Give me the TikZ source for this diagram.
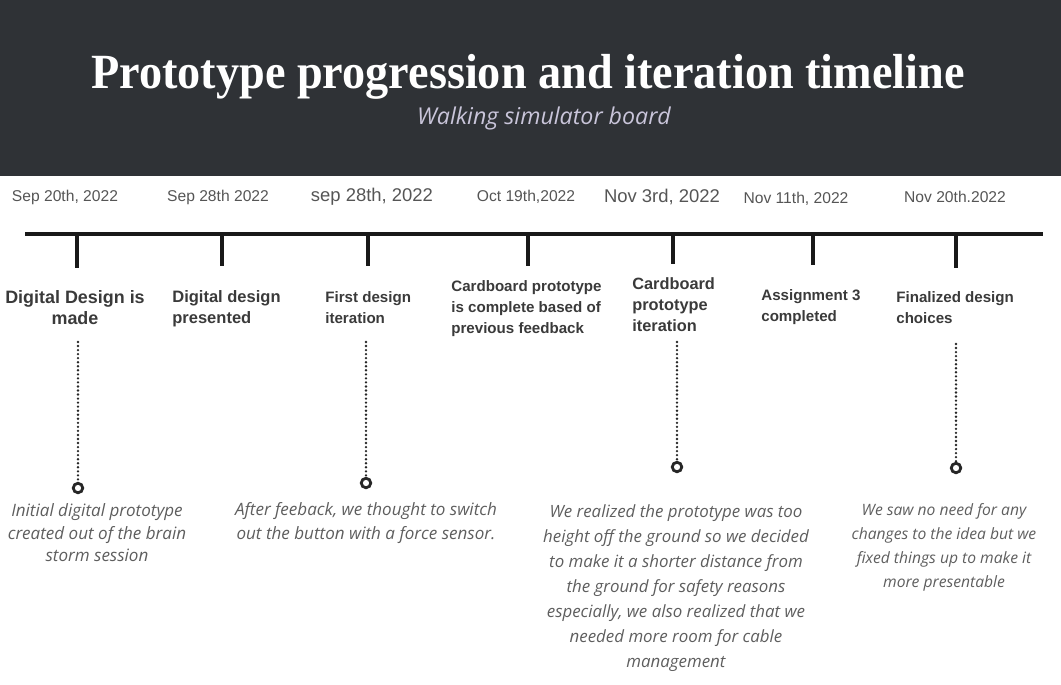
\documentclass[tikz,border=0pt]{standalone}
\usepackage{fontspec}
\setmainfont{Liberation Sans}
\newfontfamily\headfont[FakeStretch=0.94]{Liberation Serif}
\newfontfamily\notefont{Open Sans}

\definecolor{headbg}{HTML}{2F3236}
\definecolor{subgray}{HTML}{C9C5DA}
\definecolor{dategray}{HTML}{555555}
\definecolor{eventgray}{HTML}{3A3A3A}
\definecolor{notegray}{HTML}{5E5E5E}

\begin{document}
\begin{tikzpicture}[
  x=0.02cm, y=-0.02cm,
  every node/.style={inner sep=0pt},
  headline/.style={text=white, font=\headfont\bfseries\fontsize{28}{32}\selectfont},
  subline/.style={text=subgray, font=\notefont\itshape\fontsize{13.2}{15}\selectfont},
  date/.style={text=dategray, font=\fontsize{8.9}{10}\selectfont},
  bigdate/.style={text=dategray, font=\fontsize{10.5}{12}\selectfont},
  event/.style={text=eventgray, font=\bfseries\fontsize{8.6}{11.9}\selectfont, align=left, anchor=north west},
  note/.style={text=notegray, font=\notefont\itshape\fontsize{9.7}{13}\selectfont, align=center, anchor=north},
  axis/.style={line width=2.6pt, draw=black!90},
  tick/.style={line width=2.7pt, draw=black!90},
  stem/.style={draw=black!85, line width=1.5pt, line cap=round, dash pattern=on 0pt off 2.3pt},
  pin/.style={circle, draw=black!85, line width=1.6pt, minimum size=5.4pt, fill=white}
]
\useasboundingbox (0,0) rectangle (1061,684);

% header band:
\fill[headbg] (0,0) rectangle (1061,176);
\node[headline] (title) at (528,77) {Prototype progression and iteration timeline};
\node[subline] (sub) at (544,118) {Walking simulator board};

% dates:
\node[date] (d1) at (65,197) {Sep 20th, 2022};
\node[date] (d2) at (218,197) {Sep 28th 2022};
\node[bigdate] (d3) at (372,197) {sep 28th, 2022};
\node[date] (d4) at (526,197) {Oct 19th,2022};
\node[bigdate] (d5) at (662,197) {Nov 3rd, 2022};
\node[date] (d6) at (796,199) {Nov 11th, 2022};
\node[date] (d7) at (955,197) {Nov 20th.2022};

% main line and ticks:
\coordinate (start) at (25,234);
\coordinate (end) at (1043,234);
\draw[axis] (start) -- (end);
\coordinate (t1) at (77,268);
\coordinate (t2) at (222,266);
\coordinate (t3) at (368,266);
\coordinate (t4) at (528,266);
\coordinate (t5) at (673,264);
\coordinate (t6) at (813,265);
\coordinate (t7) at (956,268);
\draw[tick] (t1 |- start) -- (t1);
\draw[tick] (t2 |- start) -- (t2);
\draw[tick] (t3 |- start) -- (t3);
\draw[tick] (t4 |- start) -- (t4);
\draw[tick] (t5 |- start) -- (t5);
\draw[tick] (t6 |- start) -- (t6);
\draw[tick] (t7 |- start) -- (t7);

% events:
\node[event, align=center, anchor=north, font=\bfseries\fontsize{10.2}{11.9}\selectfont] (e1) at (75,290) {Digital Design is\\made};
\node[event, font=\bfseries\fontsize{9.4}{11.9}\selectfont] (e2) at (172,290) {Digital design\\presented};
\node[event] (e3) at (325,291) {First design\\iteration};
\node[event] (e4) at (451,280) {Cardboard prototype\\is complete based of\\previous feedback};
\node[event, font=\bfseries\fontsize{9.3}{12.1}\selectfont] (e5) at (632,277) {Cardboard\\prototype\\iteration};
\node[event] (e6) at (761,289) {Assignment 3\\completed};
\node[event] (e7) at (896,291) {Finalized design\\choices};

% dotted stems with pins:
\coordinate (s1) at (78,342);
\coordinate (s3) at (366,342);
\coordinate (s5) at (677,342);
\coordinate (s7) at (956,344);
\node[pin] (p1) at (78,488) {};
\node[pin] (p3) at (366,483) {};
\node[pin] (p5) at (677,467) {};
\node[pin] (p7) at (956,468) {};
\draw[stem] (s1) -- (p1);
\draw[stem] (s3) -- (p3);
\draw[stem] (s5) -- (p5);
\draw[stem] (s7) -- (p7);

% notes:
\node[note] (n1) at (97,503) {Initial digital prototype\\created out of the brain\\storm session};
\node[note, font=\notefont\itshape\fontsize{9.7}{13.6}\selectfont] (n3) at (366,502) {After feeback, we thought to switch\\out the button with a force sensor.};
\node[note, font=\notefont\itshape\fontsize{9.6}{14.3}\selectfont] (n5) at (676,504) {We realized the prototype was too\\height off the ground so we decided\\to make it a shorter distance from\\the ground for safety reasons\\especially, we also realized that we\\needed more room for cable\\management};
\node[note, font=\notefont\itshape\fontsize{8.9}{13.6}\selectfont] (n7) at (944,503) {We saw no need for any\\changes to the idea but we\\fixed things up to make it\\more presentable};
\end{tikzpicture}
\end{document}
